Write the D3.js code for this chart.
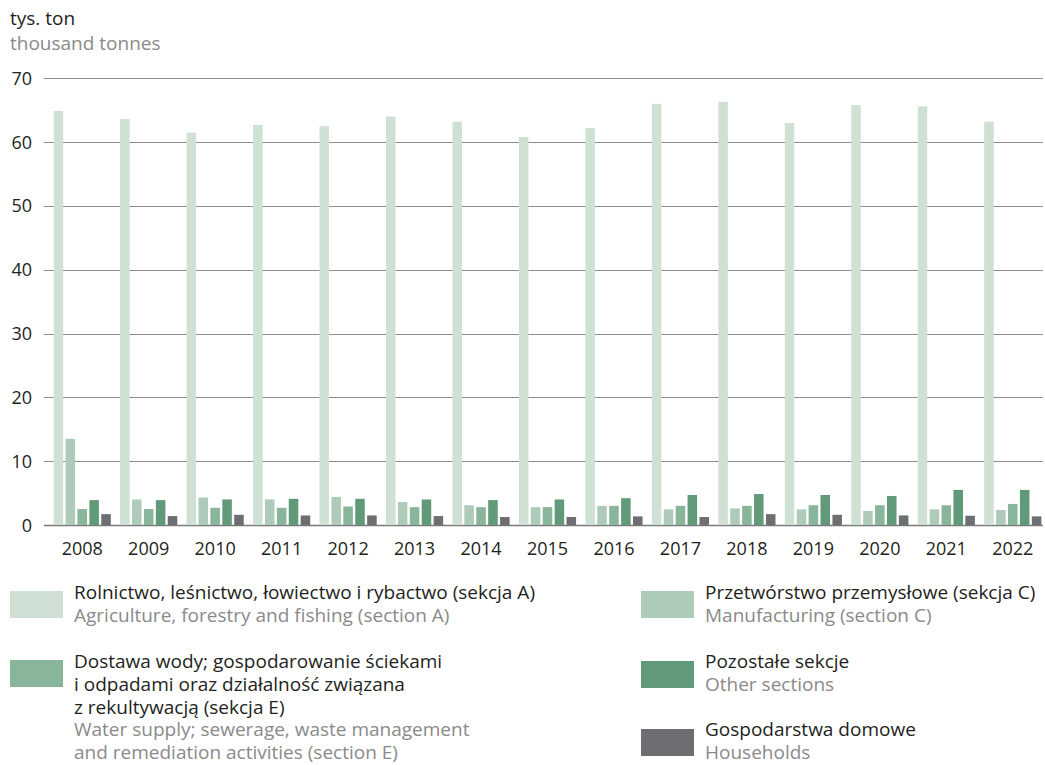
<!DOCTYPE html>
<html>
<head>
<meta charset="utf-8">
<script src="https://cdn.jsdelivr.net/npm/d3@7"></script>
<style>
  body { margin: 0; background: #fff; }
  svg text { font-family: "Open Sans", "Noto Sans", sans-serif; }
</style>
</head>
<body>
<div id="chart"></div>
<script>
// data
var years = ["2008","2009","2010","2011","2012","2013","2014","2015","2016","2017","2018","2019","2020","2021","2022"];
var agriculture   = [64.9, 63.6, 61.5, 62.7, 62.5, 64.0, 63.2, 60.8, 62.2, 66.0, 66.3, 63.0, 65.8, 65.6, 63.2];
var manufacturing = [13.5, 4.0, 4.3, 4.0, 4.4, 3.6, 3.1, 2.8, 3.0, 2.45, 2.6, 2.45, 2.2, 2.45, 2.35];
var waterSupply   = [2.5, 2.5, 2.7, 2.7, 2.9, 2.8, 2.8, 2.8, 3.0, 3.0, 3.0, 3.1, 3.1, 3.1, 3.3];
var otherSections = [3.9, 3.9, 4.0, 4.1, 4.1, 4.0, 3.9, 4.0, 4.2, 4.7, 4.85, 4.7, 4.55, 5.5, 5.5];
var households    = [1.7, 1.4, 1.6, 1.5, 1.5, 1.4, 1.25, 1.25, 1.35, 1.25, 1.7, 1.6, 1.5, 1.45, 1.35];
var yTicks = [0, 10, 20, 30, 40, 50, 60, 70];

var seriesKeys = ["agri", "manuf", "water", "other", "hh"];
var seriesValues = { agri: agriculture, manuf: manufacturing, water: waterSupply, other: otherSections, hh: households };
var color = d3.scaleOrdinal()
    .domain(seriesKeys)
    .range(["#cfe0d5", "#aecbb9", "#89b59b", "#619a78", "#6d6e71"]);

var width = 1045, height = 765;
var textDark = "#231f20", textGray = "#8a8a8a";
var fsTick = 18, fsText = 19;

var svg = d3.select("#chart").append("svg")
    .attr("width", width)
    .attr("height", height);

// scales
var x0 = d3.scaleBand()
    .domain(years)
    .range([47, 1048])
    .paddingInner(0.14)
    .paddingOuter(0.1);

var x1 = d3.scaleBand()
    .domain(seriesKeys)
    .range([0, x0.bandwidth()])
    .paddingInner(0.2);

var y = d3.scaleLinear()
    .domain([0, 70])
    .range([525, 78.3]);

// axis title
svg.append("text").attr("x", 10).attr("y", 25)
    .attr("font-size", fsText).attr("fill", textDark).text("tys. ton");
svg.append("text").attr("x", 10).attr("y", 50)
    .attr("font-size", fsText).attr("fill", textGray).text("thousand tonnes");

// gridlines
var grid = svg.append("g");
grid.selectAll("line").data(yTicks).enter().append("line")
    .attr("x1", 44).attr("x2", 1043)
    .attr("y1", function(d) { return Math.round(y(d)) + 0.5; })
    .attr("y2", function(d) { return Math.round(y(d)) + 0.5; })
    .attr("stroke", function(d) { return d === 0 ? "#7a7a7a" : "#8c8c8c"; })
    .attr("stroke-width", function(d) { return d === 0 ? 1.6 : 1.1; });

grid.selectAll("text").data(yTicks).enter().append("text")
    .attr("x", 32)
    .attr("y", function(d) { return y(d) + 6.5; })
    .attr("text-anchor", "end")
    .attr("font-size", fsTick)
    .attr("fill", textDark)
    .text(function(d) { return d; });

// bars
var groups = svg.append("g").selectAll("g")
    .data(years).enter().append("g")
    .attr("transform", function(d) { return "translate(" + x0(d) + ",0)"; });

groups.selectAll("rect")
    .data(function(d, i) {
        return seriesKeys.map(function(k) { return { key: k, value: seriesValues[k][i] }; });
    })
    .enter().append("rect")
    .attr("x", function(d) { return x1(d.key); })
    .attr("width", x1.bandwidth())
    .attr("y", function(d) { return y(d.value); })
    .attr("height", function(d) { return y(0) - y(d.value); })
    .attr("fill", function(d) { return color(d.key); });

// x labels
svg.append("g").selectAll("text")
    .data(years).enter().append("text")
    .attr("x", function(d) { return x0(d) + x0.bandwidth() / 2; })
    .attr("y", 555)
    .attr("text-anchor", "middle")
    .attr("font-size", fsTick)
    .attr("fill", textDark)
    .text(function(d) { return d; });

// legend
var legendItems = [
    { key: "agri", x: 10, y: 591, tx: 74, ty: 599,
      pl: ["Rolnictwo, leśnictwo, łowiectwo i rybactwo (sekcja A)"],
      en: ["Agriculture, forestry and fishing (section A)"] },
    { key: "water", x: 10, y: 660, tx: 74, ty: 668,
      pl: ["Dostawa wody; gospodarowanie ściekami", "i odpadami oraz działalność związana", "z rekultywacją (sekcja E)"],
      en: ["Water supply; sewerage, waste management", "and remediation activities (section E)"] },
    { key: "manuf", x: 641, y: 591, tx: 705, ty: 599,
      pl: ["Przetwórstwo przemysłowe (sekcja C)"],
      en: ["Manufacturing (section C)"] },
    { key: "other", x: 641, y: 661, tx: 705, ty: 668,
      pl: ["Pozostałe sekcje"],
      en: ["Other sections"] },
    { key: "hh", x: 641, y: 729, tx: 705, ty: 736,
      pl: ["Gospodarstwa domowe"],
      en: ["Households"] }
];

var lineH = 22.8;
var leg = svg.append("g").selectAll("g")
    .data(legendItems).enter().append("g");

leg.append("rect")
    .attr("x", function(d) { return d.x; })
    .attr("y", function(d) { return d.y; })
    .attr("width", 53)
    .attr("height", 27)
    .attr("fill", function(d) { return color(d.key); });

leg.each(function(d) {
    var g = d3.select(this);
    var lines = d.pl.map(function(t) { return { t: t, c: textDark }; })
        .concat(d.en.map(function(t) { return { t: t, c: textGray }; }));
    g.selectAll("text").data(lines).enter().append("text")
        .attr("x", d.tx)
        .attr("y", function(l, i) { return d.ty + i * lineH; })
        .attr("font-size", fsText)
        .attr("fill", function(l) { return l.c; })
        .text(function(l) { return l.t; });
});
</script>
</body>
</html>
